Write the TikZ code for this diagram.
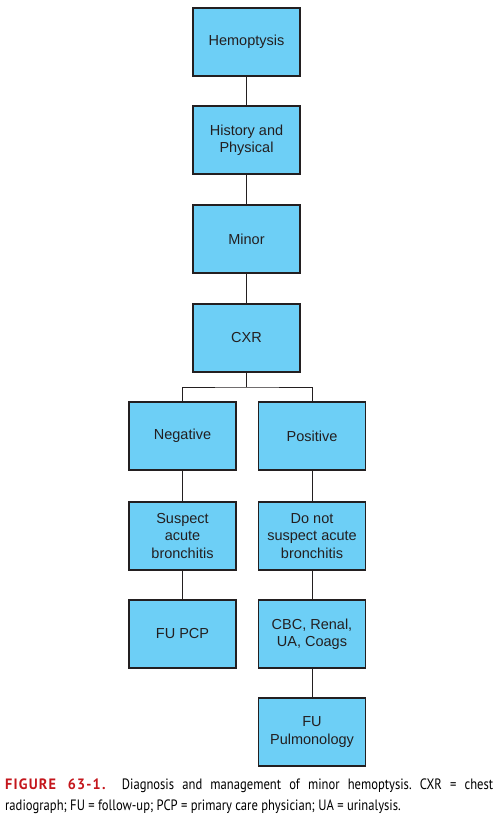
\documentclass[tikz,border=0pt]{standalone}
\usepackage{fontspec}
\setmainfont{Liberation Sans}
\newfontfamily\capfont[FakeStretch=0.84]{PT Sans}
\newfontfamily\capbold[FakeStretch=0.95,LetterSpace=8]{PT Sans Bold}
\definecolor{boxfill}{HTML}{6DCFF6}
\definecolor{ink}{HTML}{231F20}
\definecolor{figred}{HTML}{C4161C}
\frenchspacing
\begin{document}
\begin{tikzpicture}[x=1pt,y=-1pt,
  fbox/.style={draw=ink,line width=1.1pt,fill=boxfill,minimum width=107pt,minimum height=68pt,
    inner sep=2pt,align=center,text=ink,font=\fontsize{14.5}{17.5}\selectfont},
  conn/.style={draw=ink,line width=1pt}]
\useasboundingbox (0,0) rectangle (499,819);
\node[fbox] (hem) at (246.5,42) {Hemoptysis};
\node[fbox] (hist) at (246.5,140) {History and\\Physical};
\node[fbox] (minor) at (246.5,239) {Minor};
\node[fbox] (cxr) at (246.5,338) {CXR};
\node[fbox] (neg) at (182.5,436) {Negative};
\node[fbox] (pos) at (312,436) {Positive};
\node[fbox] (sus) at (182.5,536) {Suspect\\acute\\bronchitis};
\node[fbox] (nsus) at (312,536) {Do not\\suspect acute\\bronchitis};
\node[fbox] (fupcp) at (182.5,634) {FU PCP};
\node[fbox] (cbc) at (312,634) {CBC, Renal,\\UA, Coags};
\node[fbox] (fupul) at (312,732) {FU\\Pulmonology};
\draw[conn] (hem) -- (hist);
\draw[conn] (hist) -- (minor);
\draw[conn] (minor) -- (cxr);
\coordinate (br) at (246.5,387);
\draw[conn] (cxr.south) -- (br);
\draw[conn] (neg.north) |- (br) -| (pos.north);
\draw[conn] (neg) -- (sus);
\draw[conn] (sus) -- (fupcp);
\draw[conn] (pos) -- (nsus);
\draw[conn] (nsus) -- (cbc);
\draw[conn] (cbc) -- (fupul);
\node[anchor=north west,inner sep=0pt,text width=488pt,align=justify,
  font=\capfont\fontsize{15}{21}\selectfont] (cap) at (5,779)
  {{\capbold\color{figred}FIGURE 63-1.}\ \ Diagnosis and management of minor hemoptysis. CXR = chest\linebreak
   radiograph; FU = follow-up; PCP = primary care physician; UA = urinalysis.};
\end{tikzpicture}
\end{document}
